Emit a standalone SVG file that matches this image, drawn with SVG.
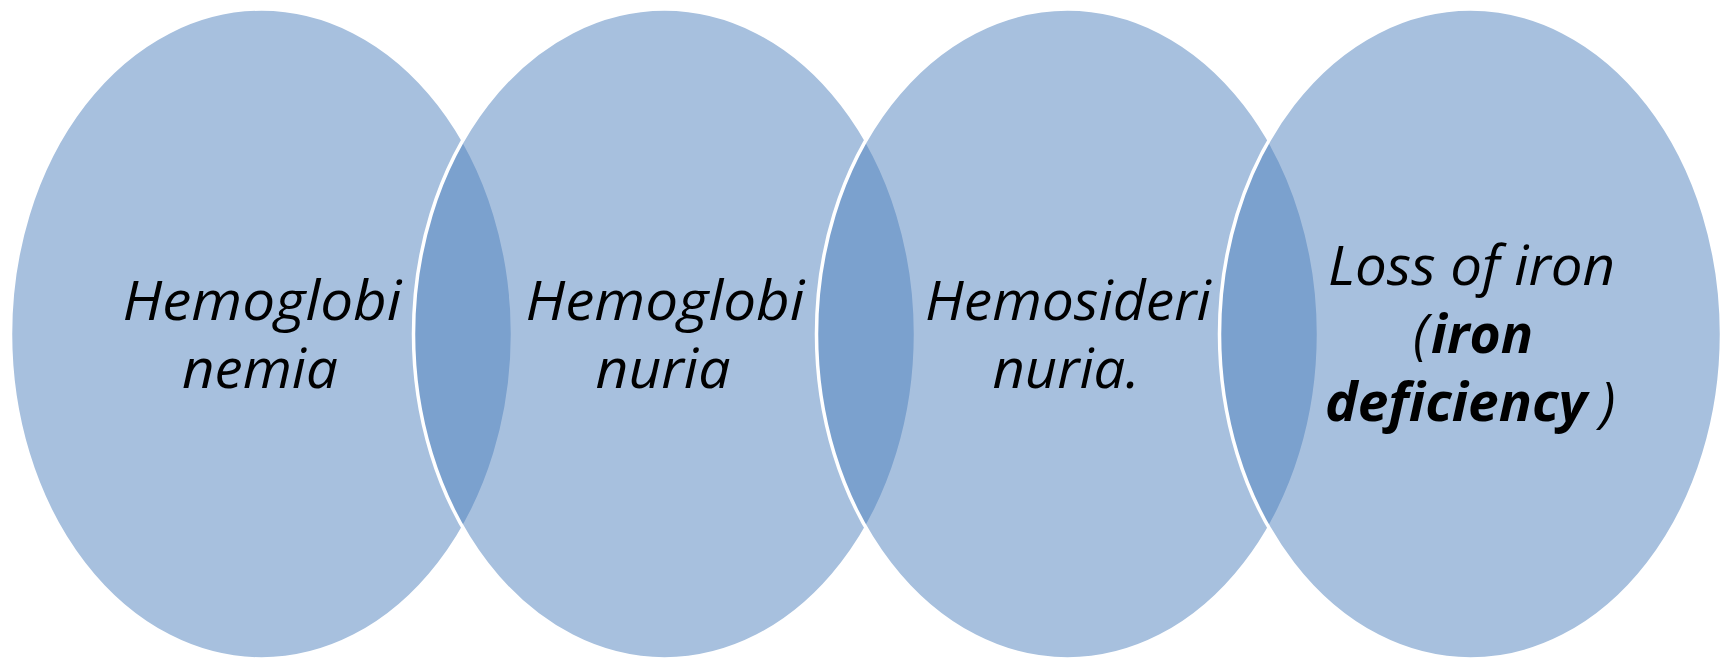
<svg xmlns="http://www.w3.org/2000/svg" width="1731" height="659" viewBox="0 0 1731 659">
  <style>
    .circle { fill: #4F81BD; fill-opacity: 0.5; stroke: #FFFFFF; stroke-width: 3.5; }
    .label { font-family: "Open Sans", "Noto Sans", "Liberation Sans", sans-serif; font-style: italic; font-size: 55px; fill: #000000; text-anchor: middle; }
    .small { font-size: 54px; }
    .start { text-anchor: start; }
    .b { font-weight: bold; }
  </style>
  <rect x="0" y="0" width="1731" height="659" fill="#FFFFFF"/>
  <g id="node-hemoglobinemia">
    <ellipse class="circle" cx="261.5" cy="334" rx="251" ry="325"/>
    <text class="label" x="262" y="320" textLength="279" lengthAdjust="spacingAndGlyphs">Hemoglobi</text>
    <text class="label" x="260" y="388" textLength="156" lengthAdjust="spacingAndGlyphs">nemia</text>
  </g>
  <g id="node-hemoglobinuria">
    <ellipse class="circle" cx="664.5" cy="334" rx="251" ry="325"/>
    <text class="label" x="665" y="320" textLength="279" lengthAdjust="spacingAndGlyphs">Hemoglobi</text>
    <text class="label" x="663" y="388" textLength="135" lengthAdjust="spacingAndGlyphs">nuria</text>
  </g>
  <g id="node-hemosiderinuria">
    <ellipse class="circle" cx="1067.5" cy="334" rx="251" ry="325"/>
    <text class="label" x="1068" y="320" textLength="286" lengthAdjust="spacingAndGlyphs">Hemosideri</text>
    <text class="label" x="1066" y="388" textLength="147" lengthAdjust="spacingAndGlyphs">nuria.</text>
  </g>
  <g id="node-loss-of-iron">
    <ellipse class="circle" cx="1470.5" cy="334" rx="251" ry="325"/>
    <text class="label small start" x="1328" y="285" textLength="287" lengthAdjust="spacingAndGlyphs">Loss of iron</text>
    <text class="label small start" x="1413" y="353">(</text>
    <text class="label small start b" x="1431" y="353" textLength="102" lengthAdjust="spacingAndGlyphs">iron</text>
    <text class="label small start b" x="1325" y="421" textLength="262" lengthAdjust="spacingAndGlyphs">deficiency</text>
    <text class="label small start" x="1600" y="421">)</text>
  </g>
  <g id="connectors"/>
</svg>
